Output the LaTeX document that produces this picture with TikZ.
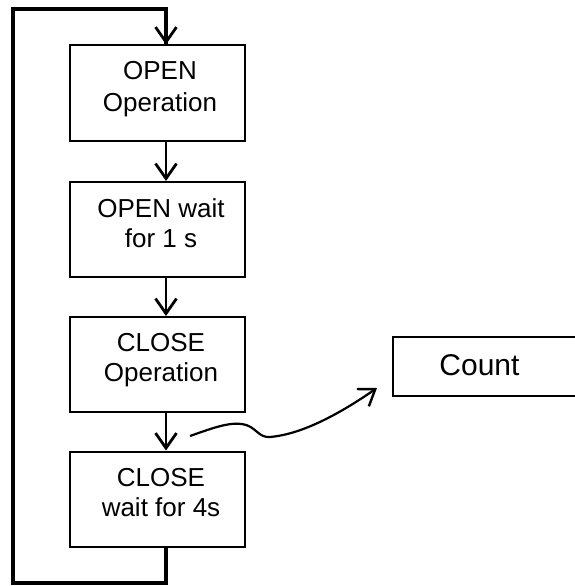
\documentclass[tikz,border=0pt]{standalone}
\usepackage{fontspec}
\setmainfont{Liberation Sans}
\usetikzlibrary{arrows.meta}
\begin{document}
\begin{tikzpicture}[x=1pt,y=-1pt,
  stepbox/.style={draw,line width=2pt,minimum width=175pt,minimum height=95pt,inner sep=0pt},
  lbl/.style={anchor=base,inner sep=0pt,font=\fontsize{26}{30}\selectfont},
  flow/.style={line width=2.8pt,-{Straight Barb[length=15pt,width=21pt,line width=2.8pt]}},
  loopline/.style={line width=3.2pt}]
\useasboundingbox (0,0) rectangle (575,586);
% boxes
\node[stepbox] (b1) at (157.5,93) {};
\node[stepbox] (b2) at (157.5,229.5) {};
\node[stepbox] (b3) at (157.5,364.5) {};
\node[stepbox] (b4) at (157.5,499) {};
\node[lbl] (t1a) at (160,80) {OPEN};
\node[lbl] (t1b) at (160,111) {Operation};
\node[lbl] (t2a) at (161,217) {OPEN wait};
\node[lbl] (t2b) at (161,247) {for 1 s};
\node[lbl] (t3a) at (161,351) {CLOSE};
\node[lbl] (t3b) at (161,381) {Operation};
\node[lbl] (t4a) at (161,486) {CLOSE};
\node[lbl] (t4b) at (161,516) {wait for 4s};
\coordinate (ax) at (166,0);
% Count box, cropped at the right edge
\begin{scope}
\clip (0,0) rectangle (575,586);
\node[draw,line width=2pt,minimum width=220pt,minimum height=59pt,anchor=west,inner sep=0pt] (cnt) at (392,366.5) {};
\end{scope}
\node[anchor=base,inner sep=0pt,font=\fontsize{30}{34}\selectfont] (ct) at (479.5,375) {Count};
% loop
\coordinate (lb) at (13,583);
\coordinate (lt) at (13,9);
\draw[loopline] (b4.south -| ax) |- (lb) -- (lt) -| (ax |- b1.north);
\draw[flow] (ax |- lt) -- (ax |- b1.north);
\draw[flow] (b1.south -| ax) -- (ax |- b2.north);
\draw[flow] (b2.south -| ax) -- (ax |- b3.north);
\draw[flow] (b3.south -| ax) -- (ax |- b4.north);
% wavy connector
\coordinate (ws) at (190,436);
\coordinate (we) at (377,388);
\draw[line width=2.2pt,-{Straight Barb[length=15pt,width=21pt,line width=2.4pt]}]
  (ws) .. controls (210,429) and (228,422) .. (242,424)
  .. controls (256,426) and (258,438) .. (270,437)
  .. controls (305,434) and (345,410) .. (we);
\end{tikzpicture}
\end{document}
